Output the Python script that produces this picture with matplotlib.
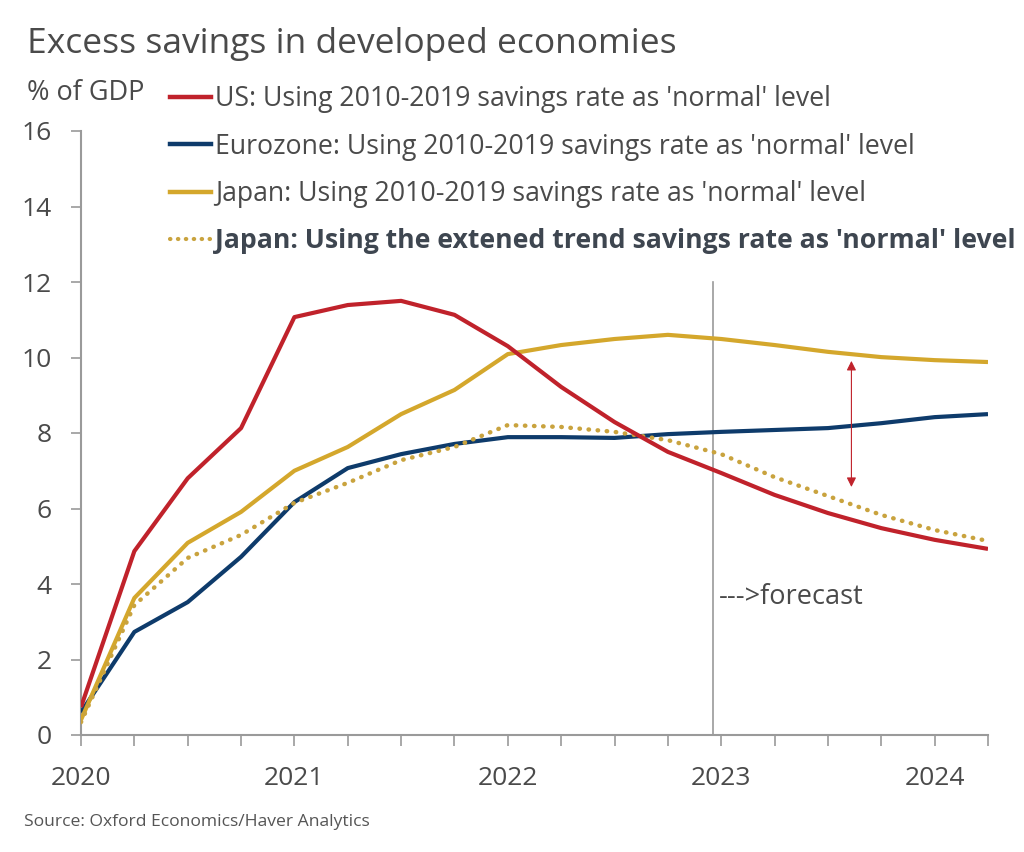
import matplotlib
matplotlib.use("Agg")
import matplotlib.pyplot as plt
from matplotlib.lines import Line2D
import numpy as np

plt.rcParams['font.family'] = ['Open Sans', 'DejaVu Sans']

quarters = [2020.0, 2020.25, 2020.5, 2020.75, 2021.0, 2021.25, 2021.5, 2021.75,
            2022.0, 2022.25, 2022.5, 2022.75, 2023.0, 2023.25, 2023.5, 2023.75,
            2024.0, 2024.25]
us = [0.74, 4.87, 6.8, 8.13, 11.07, 11.39, 11.5, 11.13, 10.3, 9.22, 8.29, 7.5,
      6.94, 6.36, 5.88, 5.48, 5.17, 4.93]
eurozone = [0.6, 2.73, 3.52, 4.72, 6.17, 7.07, 7.44, 7.71, 7.89, 7.89, 7.87, 7.97,
            8.03, 8.08, 8.13, 8.26, 8.42, 8.5]
japan = [0.4, 3.63, 5.09, 5.91, 7.0, 7.63, 8.5, 9.14, 10.09, 10.33, 10.49, 10.6,
         10.49, 10.33, 10.15, 10.01, 9.93, 9.88]
japan_trend = [0.34, 3.44, 4.69, 5.3, 6.15, 6.68, 7.28, 7.63, 8.21, 8.16, 8.03, 7.81,
               7.44, 6.83, 6.33, 5.83, 5.43, 5.14]
year_ticks = [2020, 2021, 2022, 2023, 2024]
y_ticks = [0, 2, 4, 6, 8, 10, 12, 14, 16]
labels = ["US: Using 2010-2019 savings rate as 'normal' level",
          "Eurozone: Using 2010-2019 savings rate as 'normal' level",
          "Japan: Using 2010-2019 savings rate as 'normal' level",
          "Japan: Using the extened trend savings rate as 'normal' level"]
forecast_x = 2022.96
arrow_x = 2023.61
arrow_y = (9.91, 6.57)

RED = '#C0222B'
NAVY = '#0E3B6B'
GOLD = '#D4A72C'
DOT = '#C9A33E'
TXT = '#4A4A4A'
GRAY = '#9A9A9A'

fig = plt.figure(figsize=(10.24, 8.52), dpi=100)
ax = fig.add_axes([81/1024, (852-735)/852, (988-81)/1024, (735-131)/852])

ax.plot(quarters, us, color=RED, lw=3.0, solid_capstyle='butt', zorder=4)
ax.plot(quarters, eurozone, color=NAVY, lw=3.0, solid_capstyle='butt', zorder=3)
ax.plot(quarters, japan, color=GOLD, lw=3.0, solid_capstyle='butt', zorder=3)
ax.plot(quarters, japan_trend, color=DOT, lw=3.2, linestyle=(0, (0.1, 1.95)),
        dash_capstyle='round', zorder=3)

ax.plot([forecast_x, forecast_x], [0, 12.0], color=GRAY, lw=1.2, zorder=1)
ax.annotate('', xy=(arrow_x, arrow_y[0]), xytext=(arrow_x, arrow_y[1]),
            arrowprops=dict(arrowstyle='<|-|>', color=RED, lw=0.8,
                            mutation_scale=14, shrinkA=0, shrinkB=0), zorder=5)
ax.text(2022.99, 3.66, '--->forecast', fontsize=19.5, color=TXT, ha='left', va='center')

ax.set_xlim(2020, 2024.25)
ax.set_ylim(0, 16)
ax.set_xticks(year_ticks)
ax.set_xticks(quarters, minor=True)
ax.set_yticks(y_ticks)
ax.tick_params(axis='x', which='both', direction='out', length=8, width=1.2,
               color=GRAY, pad=14, labelsize=19, labelcolor=TXT)
ax.tick_params(axis='y', direction='out', length=7, width=1.2, color=GRAY,
               pad=14, labelsize=19, labelcolor=TXT)
for s in ['top', 'right']:
    ax.spines[s].set_visible(False)
for s in ['left', 'bottom']:
    ax.spines[s].set_color(GRAY)
    ax.spines[s].set_linewidth(1.5)

handles = [Line2D([], [], color=RED, lw=3.2),
           Line2D([], [], color=NAVY, lw=3.2),
           Line2D([], [], color=GOLD, lw=3.2),
           Line2D([], [], color=DOT, lw=3.0, linestyle=(0, (0.1, 1.8)),
                  dash_capstyle='round')]
leg = fig.legend(handles, labels, loc='upper left', bbox_to_anchor=(170/1024, 1-85/852),
                 frameon=False, fontsize=19.2, handlelength=1.55, handletextpad=0.15,
                 labelspacing=0.74, borderpad=0, borderaxespad=0)
for t in leg.get_texts():
    t.set_color(TXT)
leg.get_texts()[3].set_fontweight('bold')
leg.get_texts()[3].set_color('#3E4650')

fig.text(27/1024, 1-44/852, 'Excess savings in developed economies', fontsize=25.5,
         color=TXT, ha='left', va='center')
fig.text(27/1024, 1-93/852, '% of GDP', fontsize=19.5, color=TXT, ha='left', va='center')
fig.text(24/1024, 1-822/852, 'Source: Oxford Economics/Haver Analytics', fontsize=12.6,
         color='#555555', ha='left', va='center')

fig.savefig('out.png', dpi=100)
